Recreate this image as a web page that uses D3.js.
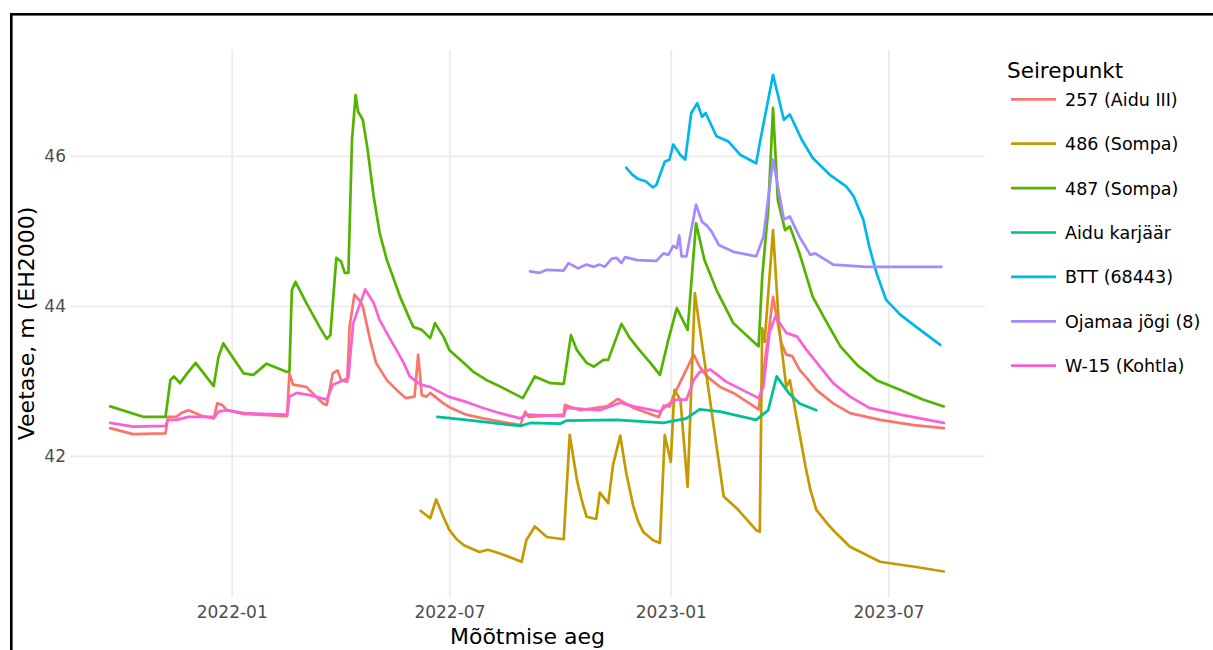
<!DOCTYPE html>
<html>
<head>
<meta charset="utf-8">
<script src="https://cdn.jsdelivr.net/npm/d3@7"></script>
<style>
  html, body { margin: 0; padding: 0; background: #fff; }
  svg { display: block; font-family: "DejaVu Sans", Verdana, sans-serif; }
</style>
</head>
<body>
<svg id="chart" width="1213" height="650"></svg>
<script>
// Groundwater levels per monitoring point, [date, level m EH2000]
const seriesNames = ["257 (Aidu III)", "486 (Sompa)", "487 (Sompa)", "Aidu karjäär", "BTT (68443)", "Ojamaa jõgi (8)", "W-15 (Kohtla)"];

const s257 = [
  ["2021-09-22",42.37],["2021-10-11",42.29],["2021-11-07",42.30],["2021-11-09",42.52],["2021-11-16",42.52],
  ["2021-11-21",42.58],["2021-11-26",42.61],["2021-12-08",42.53],["2021-12-17",42.50],["2021-12-20",42.70],
  ["2021-12-24",42.68],["2021-12-28",42.61],["2022-01-11",42.56],["2022-02-16",42.53],["2022-02-18",43.10],
  ["2022-02-21",42.95],["2022-03-04",42.92],["2022-03-18",42.70],["2022-03-21",42.68],["2022-03-26",43.10],
  ["2022-03-30",43.14],["2022-04-02",43.01],["2022-04-07",42.99],["2022-04-09",43.72],["2022-04-13",44.15],
  ["2022-04-18",44.06],["2022-04-20",43.99],["2022-04-26",43.55],["2022-05-01",43.24],["2022-05-10",43.01],
  ["2022-05-18",42.88],["2022-05-26",42.77],["2022-06-02",42.79],["2022-06-05",43.35],["2022-06-08",42.81],
  ["2022-06-12",42.79],["2022-06-15",42.84],["2022-06-26",42.70],["2022-07-01",42.65],["2022-07-15",42.55],
  ["2022-07-29",42.50],["2022-08-29",42.41],["2022-09-02",42.59],["2022-09-05",42.52],["2022-10-04",42.55],
  ["2022-10-05",42.68],["2022-10-18",42.61],["2022-11-09",42.66],["2022-11-18",42.76],["2022-12-01",42.64],
  ["2022-12-22",42.52],["2022-12-26",42.67],["2022-12-31",42.66],["2023-01-03",42.79],["2023-01-20",43.35],
  ["2023-01-25",43.19],["2023-01-31",43.06],["2023-02-11",42.92],["2023-02-22",42.84],["2023-03-15",42.62],
  ["2023-03-18",42.97],["2023-03-27",44.12],["2023-04-03",43.50],["2023-04-07",43.35],["2023-04-12",43.33],
  ["2023-04-18",43.15],["2023-04-24",43.04],["2023-05-02",42.88],["2023-05-16",42.70],["2023-05-30",42.57],
  ["2023-06-24",42.48],["2023-07-22",42.41],["2023-08-16",42.37]
];

const s486 = [
  ["2022-06-07",41.27],["2022-06-15",41.17],["2022-06-20",41.42],["2022-06-26",41.19],["2022-07-01",41.01],
  ["2022-07-07",40.89],["2022-07-13",40.81],["2022-07-26",40.72],["2022-08-02",40.75],["2022-08-12",40.70],
  ["2022-08-30",40.59],["2022-09-03",40.88],["2022-09-10",41.06],["2022-09-20",40.92],["2022-10-04",40.89],
  ["2022-10-09",42.28],["2022-10-15",41.68],["2022-10-19",41.41],["2022-10-23",41.19],["2022-10-31",41.16],
  ["2022-11-03",41.51],["2022-11-10",41.37],["2022-11-14",41.88],["2022-11-20",42.27],["2022-11-25",41.77],
  ["2022-12-01",41.32],["2022-12-05",41.12],["2022-12-09",40.99],["2022-12-17",40.88],["2022-12-23",40.84],
  ["2022-12-27",42.28],["2023-01-01",41.92],["2023-01-04",42.88],["2023-01-09",42.75],["2023-01-15",41.59],
  ["2023-01-21",44.17],["2023-02-14",41.46],["2023-02-25",41.30],["2023-03-13",41.01],["2023-03-16",40.99],
  ["2023-03-18",43.70],["2023-03-20",43.52],["2023-03-27",45.01],["2023-04-01",43.72],["2023-04-07",42.92],
  ["2023-04-10",43.01],["2023-04-18",42.30],["2023-04-23",41.86],["2023-04-27",41.55],["2023-05-02",41.28],
  ["2023-05-11",41.10],["2023-05-16",41.01],["2023-05-30",40.79],["2023-06-24",40.59],["2023-07-24",40.52],
  ["2023-08-16",40.46]
];

const s487 = [
  ["2021-09-22",42.66],["2021-10-20",42.52],["2021-11-07",42.52],["2021-11-11",43.01],["2021-11-14",43.06],
  ["2021-11-19",42.97],["2021-11-25",43.10],["2021-12-02",43.24],["2021-12-17",42.93],["2021-12-21",43.32],
  ["2021-12-25",43.50],["2022-01-11",43.10],["2022-01-19",43.08],["2022-01-30",43.23],["2022-02-16",43.12],
  ["2022-02-18",43.13],["2022-02-20",44.21],["2022-02-23",44.32],["2022-03-04",44.04],["2022-03-15",43.72],
  ["2022-03-21",43.56],["2022-03-24",43.61],["2022-03-29",44.64],["2022-04-02",44.59],["2022-04-05",44.44],
  ["2022-04-08",44.44],["2022-04-11",46.21],["2022-04-14",46.81],["2022-04-16",46.59],["2022-04-20",46.48],
  ["2022-04-24",46.08],["2022-04-29",45.46],["2022-05-04",44.97],["2022-05-10",44.61],["2022-05-15",44.39],
  ["2022-05-21",44.12],["2022-05-28",43.86],["2022-06-01",43.72],["2022-06-08",43.68],["2022-06-15",43.57],
  ["2022-06-19",43.77],["2022-06-26",43.59],["2022-07-01",43.41],["2022-07-13",43.24],["2022-07-21",43.12],
  ["2022-08-01",43.01],["2022-08-09",42.95],["2022-08-20",42.86],["2022-08-31",42.77],["2022-09-10",43.06],
  ["2022-09-23",42.97],["2022-10-04",42.96],["2022-10-10",43.61],["2022-10-15",43.41],["2022-10-23",43.24],
  ["2022-10-29",43.19],["2022-11-06",43.28],["2022-11-10",43.28],["2022-11-21",43.76],["2022-11-28",43.57],
  ["2022-12-06",43.41],["2022-12-15",43.24],["2022-12-23",43.08],["2022-12-30",43.55],["2023-01-06",43.97],
  ["2023-01-15",43.68],["2023-01-22",45.10],["2023-01-29",44.61],["2023-02-08",44.21],["2023-02-22",43.77],
  ["2023-03-15",43.46],["2023-03-18",44.39],["2023-03-23",45.28],["2023-03-27",46.64],["2023-03-31",45.41],
  ["2023-04-06",45.01],["2023-04-10",45.06],["2023-04-18",44.70],["2023-04-29",44.12],["2023-05-11",43.77],
  ["2023-05-22",43.46],["2023-06-05",43.21],["2023-06-21",43.01],["2023-07-11",42.88],["2023-07-30",42.75],
  ["2023-08-16",42.66]
];

const sAidu = [
  ["2022-06-21",42.52],["2022-07-15",42.48],["2022-08-29",42.40],["2022-09-06",42.44],["2022-10-01",42.43],
  ["2022-10-06",42.47],["2022-11-17",42.48],["2022-12-26",42.44],["2023-01-14",42.50],["2023-01-25",42.62],
  ["2023-02-11",42.59],["2023-03-13",42.48],["2023-03-23",42.61],["2023-03-30",43.06],["2023-04-09",42.84],
  ["2023-04-18",42.70],["2023-05-02",42.61]
];

const sBTT = [
  ["2022-11-25",45.84],["2022-11-30",45.75],["2022-12-05",45.69],["2022-12-11",45.66],["2022-12-17",45.58],
  ["2022-12-20",45.61],["2022-12-24",45.79],["2022-12-27",45.92],["2022-12-31",45.95],["2023-01-03",46.15],
  ["2023-01-09",46.01],["2023-01-13",45.95],["2023-01-18",46.57],["2023-01-23",46.70],["2023-01-27",46.52],
  ["2023-01-30",46.57],["2023-02-08",46.26],["2023-02-18",46.19],["2023-02-28",46.01],["2023-03-13",45.90],
  ["2023-03-16",46.17],["2023-03-27",47.08],["2023-04-05",46.48],["2023-04-10",46.55],["2023-04-20",46.21],
  ["2023-04-29",45.97],["2023-05-13",45.75],["2023-05-27",45.59],["2023-06-02",45.46],["2023-06-10",45.15],
  ["2023-06-15",44.79],["2023-06-21",44.44],["2023-06-29",44.08],["2023-07-11",43.88],["2023-07-24",43.72],
  ["2023-08-13",43.48]
];

const sOjamaa = [
  ["2022-09-06",44.46],["2022-09-14",44.44],["2022-09-20",44.48],["2022-10-04",44.47],["2022-10-08",44.57],
  ["2022-10-16",44.50],["2022-10-23",44.55],["2022-10-29",44.52],["2022-11-03",44.55],["2022-11-07",44.52],
  ["2022-11-13",44.63],["2022-11-17",44.64],["2022-11-21",44.57],["2022-11-24",44.65],["2022-12-04",44.61],
  ["2022-12-20",44.60],["2022-12-26",44.70],["2022-12-30",44.68],["2023-01-03",44.80],["2023-01-06",44.77],
  ["2023-01-08",44.94],["2023-01-10",44.66],["2023-01-14",44.66],["2023-01-22",45.35],["2023-01-27",45.12],
  ["2023-01-31",45.07],["2023-02-04",44.99],["2023-02-10",44.81],["2023-02-22",44.72],["2023-03-13",44.66],
  ["2023-03-19",44.92],["2023-03-27",45.95],["2023-04-05",45.15],["2023-04-10",45.19],["2023-04-18",44.92],
  ["2023-04-27",44.68],["2023-05-01",44.70],["2023-05-16",44.55],["2023-06-13",44.52],["2023-08-14",44.52]
];

const sW15 = [
  ["2021-09-22",42.44],["2021-10-11",42.39],["2021-11-07",42.40],["2021-11-09",42.48],["2021-11-16",42.48],
  ["2021-11-26",42.52],["2021-12-08",42.52],["2021-12-18",42.52],["2021-12-21",42.59],["2021-12-28",42.61],
  ["2022-01-11",42.57],["2022-02-16",42.55],["2022-02-18",42.79],["2022-02-24",42.84],["2022-03-07",42.81],
  ["2022-03-21",42.75],["2022-03-26",42.95],["2022-04-04",43.01],["2022-04-08",43.04],["2022-04-12",43.77],
  ["2022-04-22",44.22],["2022-04-29",44.04],["2022-05-04",43.81],["2022-05-13",43.55],["2022-05-18",43.41],
  ["2022-05-24",43.24],["2022-05-29",43.06],["2022-06-07",42.95],["2022-06-15",42.92],["2022-06-30",42.79],
  ["2022-07-15",42.72],["2022-07-29",42.64],["2022-08-12",42.57],["2022-08-29",42.50],["2022-09-03",42.55],
  ["2022-10-04",42.53],["2022-10-06",42.64],["2022-11-03",42.61],["2022-11-20",42.71],["2022-12-01",42.66],
  ["2022-12-23",42.59],["2022-12-29",42.68],["2023-01-06",42.75],["2023-01-14",42.75],["2023-01-20",43.01],
  ["2023-01-25",43.12],["2023-02-03",43.15],["2023-02-16",42.99],["2023-03-15",42.77],["2023-03-19",42.92],
  ["2023-03-24",43.64],["2023-03-29",43.86],["2023-04-07",43.64],["2023-04-16",43.59],["2023-04-24",43.41],
  ["2023-05-05",43.19],["2023-05-16",42.97],["2023-05-30",42.79],["2023-06-15",42.64],["2023-07-11",42.55],
  ["2023-08-16",42.44]
];

const xTickLabels = ["2022-01", "2022-07", "2023-01", "2023-07"];
const yTickValues = [42, 44, 46];

// ggplot default hue palette for seven groups
const palette = ["#F8766D", "#C49A00", "#53B400", "#00C094", "#00B6EB", "#A58AFF", "#FB61D7"];

const seriesData = [s257, s486, s487, sAidu, sBTT, sOjamaa, sW15];

const parseDay = d3.utcParse("%Y-%m-%d");
const parseMonth = d3.utcParse("%Y-%m");

const svg = d3.select("#chart");
const panel = { left: 70, right: 985, top: 50, bottom: 597 };

const x = d3.scaleUtc()
  .domain([new Date(Date.UTC(2021, 7, 19, 14)), new Date(Date.UTC(2023, 8, 19, 5))])
  .range([panel.left, panel.right]);
const y = d3.scaleLinear()
  .domain([40.12, 47.41])
  .range([panel.bottom, panel.top]);

// outer frame
svg.append("rect")
  .attr("x", 11.3).attr("y", 14.3)
  .attr("width", 1400).attr("height", 900)
  .attr("fill", "none").attr("stroke", "#000").attr("stroke-width", 2.6);

// grid and tick labels
const xTicks = xTickLabels.map(parseMonth);
const gx = svg.append("g")
  .attr("transform", `translate(0,${panel.bottom})`)
  .call(d3.axisBottom(x).tickValues(xTicks).tickSize(-(panel.bottom - panel.top)).tickPadding(9).tickFormat(d3.utcFormat("%Y-%m")));
const gy = svg.append("g")
  .attr("transform", `translate(${panel.left},0)`)
  .call(d3.axisLeft(y).tickValues(yTickValues).tickSize(-(panel.right - panel.left)).tickPadding(4).tickFormat(d3.format("d")));

[gx, gy].forEach(g => {
  g.select(".domain").remove();
  g.selectAll(".tick line").attr("stroke", "#ebebeb").attr("stroke-width", 1.8);
  g.selectAll(".tick text")
    .attr("fill", "#4d4d4d")
    .style("font-size", "17px")
    .style("font-family", "'DejaVu Sans', Verdana, sans-serif");
});
gx.selectAll(".tick text").attr("dy", "0.71em").attr("y", 9);

// series lines
const line = d3.line()
  .x(d => x(parseDay(d[0])))
  .y(d => y(d[1]));

svg.append("g")
  .selectAll("path")
  .data(seriesData)
  .join("path")
  .attr("d", line)
  .attr("fill", "none")
  .attr("stroke", (d, i) => palette[i])
  .attr("stroke-width", 2.7)
  .attr("stroke-linejoin", "round")
  .attr("stroke-linecap", "round");

// axis titles
svg.append("text")
  .attr("x", (panel.left + panel.right) / 2)
  .attr("y", 644)
  .attr("text-anchor", "middle")
  .style("font-size", "22px")
  .attr("fill", "#000")
  .text("Mõõtmise aeg");

svg.append("text")
  .attr("transform", `translate(33.5,${(panel.top + panel.bottom) / 2}) rotate(-90)`)
  .attr("text-anchor", "middle")
  .style("font-size", "22px")
  .attr("fill", "#000")
  .text("Veetase, m (EH2000)");

// legend
const legend = svg.append("g").attr("transform", "translate(1007,0)");
legend.append("text")
  .attr("x", 0).attr("y", 78)
  .style("font-size", "21.5px")
  .attr("fill", "#000")
  .text("Seirepunkt");

const item = legend.selectAll("g.item")
  .data(seriesNames)
  .join("g")
  .attr("class", "item")
  .attr("transform", (d, i) => `translate(0,${99.3 + i * 44.4})`);
item.append("line")
  .attr("x1", 4).attr("x2", 49)
  .attr("y1", 0).attr("y2", 0)
  .attr("stroke", (d, i) => palette[i])
  .attr("stroke-width", 2.7);
item.append("text")
  .attr("x", 58).attr("y", 6.5)
  .style("font-size", "17.5px")
  .attr("fill", "#000")
  .text(d => d);
</script>
</body>
</html>
